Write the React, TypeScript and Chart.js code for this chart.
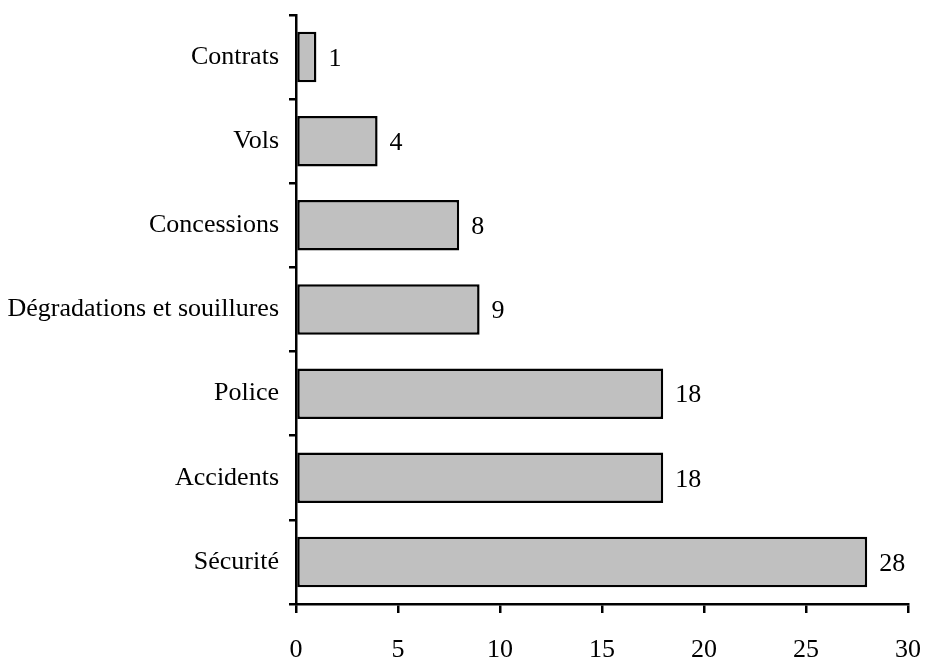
import React, { useEffect, useRef } from "react";
import { Chart, registerables } from "chart.js";

Chart.register(...registerables);

const categories = [
  "Contrats",
  "Vols",
  "Concessions",
  "Dégradations et souillures",
  "Police",
  "Accidents",
  "Sécurité",
];
const counts = [1, 4, 8, 9, 18, 18, 28];
const xTicks = { min: 0, max: 30, step: 5 };

const FONT_FAMILY = "'Liberation Serif', 'DejaVu Serif', serif";
const FONT_SIZE = 26;

// Writes each bar's count just past its end.
const valueLabels = {
  id: "valueLabels",
  afterDatasetsDraw(chart: any) {
    const { ctx } = chart;
    ctx.save();
    ctx.fillStyle = "#000";
    ctx.font = `${FONT_SIZE}px ${FONT_FAMILY}`;
    ctx.textAlign = "left";
    ctx.textBaseline = "middle";
    chart.data.datasets.forEach((ds: any, i: number) => {
      const meta = chart.getDatasetMeta(i);
      meta.data.forEach((bar: any, j: number) => {
        ctx.fillText(String(ds.data[j]), bar.x + 12, bar.y + 2);
      });
    });
    ctx.restore();
  },
};

export default function App() {
  const canvasRef = useRef<HTMLCanvasElement | null>(null);

  useEffect(() => {
    if (!canvasRef.current) return;
    const chart = new Chart(canvasRef.current, {
      type: "bar",
      data: {
        labels: categories,
        datasets: [
          {
            data: counts,
            backgroundColor: "#c0c0c0",
            borderColor: "#000",
            borderWidth: 2.5,
            borderSkipped: false,
            categoryPercentage: 0.6,
            barPercentage: 1,
          },
        ],
      },
      options: {
        indexAxis: "y",
        animation: false,
        responsive: false,
        maintainAspectRatio: false,
        layout: { padding: { top: 15, right: 19, left: 0, bottom: 0 } },
        plugins: {
          legend: { display: false },
          tooltip: { enabled: false },
        },
        scales: {
          x: {
            min: xTicks.min,
            max: xTicks.max,
            ticks: {
              stepSize: xTicks.step,
              color: "#000",
              padding: 22,
              font: { family: FONT_FAMILY, size: FONT_SIZE },
            },
            grid: {
              drawOnChartArea: false,
              drawTicks: true,
              tickLength: 9,
              lineWidth: 2.5,
              color: "#000",
            },
            border: { display: true, color: "#000", width: 2.5 },
            afterFit(scale: any) {
              scale.height = 58;
              scale.paddingLeft = 0;
              scale.paddingRight = 0;
            },
          },
          y: {
            ticks: {
              color: "#000",
              padding: 10,
              font: { family: FONT_FAMILY, size: FONT_SIZE },
            },
            grid: {
              offset: true,
              drawOnChartArea: false,
              drawTicks: true,
              tickLength: 7,
              lineWidth: 2.5,
              color: "#000",
            },
            border: { display: true, color: "#000", width: 2.5 },
            afterFit(scale: any) {
              scale.width = 296;
              scale.paddingTop = 0;
              scale.paddingBottom = 0;
            },
          },
        },
      },
      plugins: [valueLabels],
    });
    return () => chart.destroy();
  }, []);

  return (
    <div
      style={{
        position: "fixed",
        left: 0,
        top: 0,
        width: 927,
        height: 662,
        background: "#fff",
      }}
    >
      <canvas ref={canvasRef} width={927} height={662} />
    </div>
  );
}
